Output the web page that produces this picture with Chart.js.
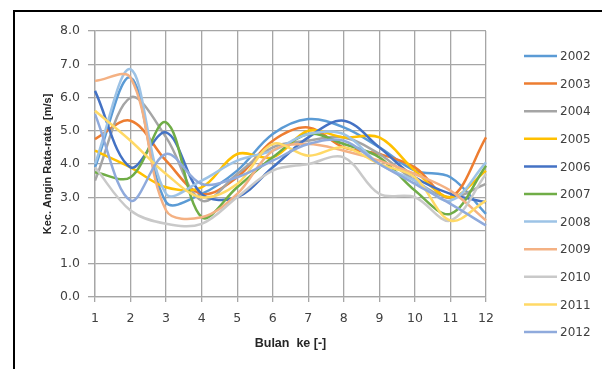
<!DOCTYPE html>
<html>
<head>
<meta charset="utf-8">
<script src="https://cdn.jsdelivr.net/npm/chart.js@4"></script>
<style>
    html, body { margin: 0; padding: 0; background: #ffffff; }
    .wrap { position: relative; width: 602px; height: 369px; overflow: hidden; }
    .frame {
        position: absolute; left: 13px; top: 10px; width: 700px; height: 500px;
        border-top: 2px solid #000; border-left: 2px solid #000;
    }
    canvas { position: absolute; left: 0; top: 0; }
</style>
</head>
<body>
<div class="wrap">
    <div class="frame"></div>
    <canvas id="windChart" width="602" height="369"></canvas>
</div>
<script>
// Months (x axis)
const months = [1, 2, 3, 4, 5, 6, 7, 8, 9, 10, 11, 12];

// Yearly series, values (m/s)
const years = ['2002', '2003', '2004', '2005', '2006', '2007', '2008', '2009', '2010', '2011', '2012'];
const v2002 = [3.9, 6.6, 2.85, 3.1, 3.8, 4.9, 5.35, 5.1, 4.5, 3.8, 3.6, 2.5];
const v2003 = [4.75, 5.3, 4.1, 3.1, 3.6, 4.7, 5.1, 4.5, 4.3, 3.9, 3.0, 4.8];
const v2004 = [3.5, 6.0, 4.8, 2.9, 3.7, 4.5, 4.7, 4.8, 4.3, 3.5, 3.0, 3.4];
const v2005 = [4.4, 3.9, 3.3, 3.3, 4.3, 4.2, 5.0, 4.8, 4.8, 3.8, 3.0, 3.8];
const v2006 = [6.2, 3.9, 4.95, 3.1, 3.0, 3.9, 4.8, 5.3, 4.5, 3.6, 3.1, 2.85];
const v2007 = [3.75, 3.6, 5.25, 2.4, 3.3, 4.2, 4.9, 4.6, 4.2, 3.2, 2.5, 3.95];
const v2008 = [4.0, 6.85, 3.1, 3.5, 4.1, 4.4, 4.9, 4.9, 4.0, 3.5, 2.9, 4.05];
const v2009 = [6.5, 6.6, 2.6, 2.4, 3.1, 4.4, 4.6, 4.4, 4.1, 3.7, 3.2, 2.3];
const v2010 = [3.9, 2.6, 2.2, 2.2, 3.0, 3.8, 4.0, 4.2, 3.1, 3.0, 2.3, 3.7];
const v2011 = [5.6, 4.7, 3.7, 3.0, 3.4, 4.6, 4.25, 4.5, 4.0, 3.6, 2.3, 2.9];
const v2012 = [5.5, 2.9, 4.3, 3.4, 3.6, 4.1, 4.6, 4.7, 4.0, 3.4, 2.8, 2.15];
const seriesValues = [v2002, v2003, v2004, v2005, v2006, v2007, v2008, v2009, v2010, v2011, v2012];

// Y axis ticks
const yMin = 0;
const yMax = 8;
const yStep = 1;

// Excel-like palette
const colors = ['#5b9bd5', '#ed7d31', '#a5a5a5', '#ffc000', '#4472c4', '#70ad47',
                '#9dc3e6', '#f4b183', '#c9c9c9', '#ffd966', '#8faadc'];

const gridColor = '#a6a6a6';
const textColor = '#404040';

// Legend on the right, drawn by hand so rows sit where they should
const sideLegend = {
    id: 'sideLegend',
    afterDraw(chart) {
        const ctx = chart.ctx;
        ctx.save();
        ctx.font = '12px "DejaVu Sans"';
        ctx.textBaseline = 'middle';
        ctx.textAlign = 'left';
        chart.data.datasets.forEach(function(ds, i) {
            const y = 56 + i * 27.6;
            ctx.strokeStyle = ds.borderColor;
            ctx.lineWidth = 2.5;
            ctx.beginPath();
            ctx.moveTo(524, y);
            ctx.lineTo(557, y);
            ctx.stroke();
            ctx.fillStyle = textColor;
            ctx.fillText(ds.label, 560, y + 1);
        });
        ctx.restore();
    }
};

const datasets = years.map(function(year, i) {
    return {
        label: year,
        data: seriesValues[i],
        borderColor: colors[i],
        backgroundColor: colors[i],
        borderWidth: 2.5,
        pointRadius: 0,
        tension: 0.35,
        fill: false,
        order: years.length - i
    };
});

const ctx = document.getElementById('windChart').getContext('2d');
const windChart = new Chart(ctx, {
    type: 'line',
    data: {
        labels: months,
        datasets: datasets
    },
    options: {
        responsive: false,
        animation: false,
        devicePixelRatio: 1,
        layout: {
            padding: { left: 20, right: 116, top: 31, bottom: 5 }
        },
        plugins: {
            legend: { display: false },
            tooltip: { enabled: false }
        },
        scales: {
            x: {
                offset: false,
                grid: {
                    color: gridColor,
                    lineWidth: 1.3,
                    tickLength: 5
                },
                border: { color: gridColor, width: 1.3 },
                ticks: {
                    color: textColor,
                    padding: 9,
                    maxRotation: 0,
                    font: { family: 'DejaVu Sans', size: 12.5 }
                },
                title: {
                    display: true,
                    text: 'Bulan  ke [-]',
                    color: '#262626',
                    padding: { top: 0, bottom: 13 },
                    font: { family: 'Liberation Sans', size: 12.5, weight: 'bold' }
                },
                afterFit: function(scale) {
                    scale.height = 67;
                }
            },
            y: {
                min: yMin,
                max: yMax,
                grid: {
                    color: gridColor,
                    lineWidth: 1.3,
                    tickLength: 7
                },
                border: { color: gridColor, width: 1.3 },
                ticks: {
                    stepSize: yStep,
                    color: textColor,
                    padding: 8,
                    font: { family: 'DejaVu Sans', size: 12.5 },
                    callback: function(value) {
                        return value.toFixed(1);
                    }
                },
                title: {
                    display: true,
                    text: 'Kec. Angin Rata-rata  [m/s]',
                    color: '#262626',
                    padding: { top: 21, bottom: 0 },
                    font: { family: 'Liberation Sans', size: 11, weight: 'bold' }
                },
                afterFit: function(scale) {
                    scale.width = 75;
                }
            }
        }
    },
    plugins: [sideLegend]
});
</script>
</body>
</html>
